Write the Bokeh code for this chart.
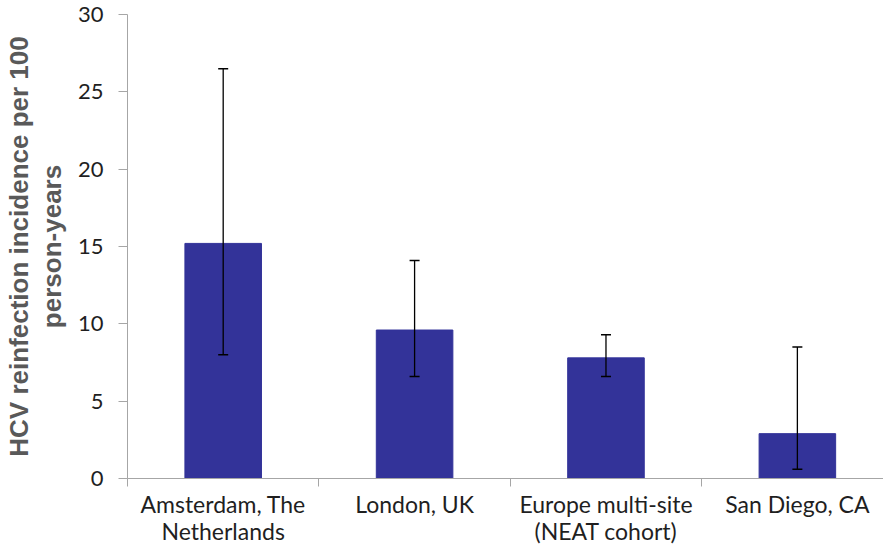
from bokeh.plotting import figure
from bokeh.models import ColumnDataSource, Whisker, FixedTicker, Range1d
from bokeh.embed import file_html
from bokeh.resources import INLINE

# Data
sites = ["Amsterdam, The\nNetherlands", "London, UK", "Europe multi-site\n(NEAT cohort)", "San Diego, CA"]
incidence = [15.2, 9.6, 7.8, 2.9]
ci_lower = [8.0, 6.6, 6.6, 0.6]
ci_upper = [26.5, 14.1, 9.3, 8.5]
y_ticks = [0, 5, 10, 15, 20, 25, 30]

positions = [i + 0.5 for i in range(len(sites))]
boundaries = list(range(len(sites) + 1))

source = ColumnDataSource(data=dict(x=positions, top=incidence, lower=ci_lower, upper=ci_upper))

p = figure(width=883, height=548, output_backend="svg", toolbar_location=None,
           x_range=Range1d(0, 3.95), y_range=Range1d(0, 30),
           min_border_left=127, min_border_top=14, min_border_bottom=70, min_border_right=0)
p.outline_line_color = None
p.xgrid.grid_line_color = None
p.ygrid.grid_line_color = None
p.background_fill_color = "white"

p.vbar(x="x", top="top", width=0.40, bottom=0, source=source,
       fill_color="#333399", line_color="#333399")

w = Whisker(base="x", lower="lower", upper="upper", source=source,
            line_color="black", line_width=1.3, level="overlay")
w.upper_head.size = 10
w.lower_head.size = 10
w.upper_head.line_width = 1.5
w.lower_head.line_width = 1.5
w.upper_head.line_color = "black"
w.lower_head.line_color = "black"
p.add_layout(w)

axis_color = "#a6a6a6"
label_font = "Lato"

# y axis
p.yaxis.ticker = FixedTicker(ticks=y_ticks)
p.yaxis.axis_line_color = axis_color
p.yaxis.major_tick_line_color = axis_color
p.yaxis.major_tick_out = 9
p.yaxis.major_tick_in = 0
p.yaxis.minor_tick_line_color = None
p.yaxis.major_label_text_font = label_font
p.yaxis.major_label_text_font_size = "22px"
p.yaxis.major_label_text_color = "#1f1f1f"
p.yaxis.major_label_standoff = 15
p.yaxis.axis_label = "HCV reinfection incidence per 100\nperson-years"
p.yaxis.axis_label_text_font = "Liberation Sans"
p.yaxis.axis_label_text_font_style = "bold"
p.yaxis.axis_label_text_font_size = "26px"
p.yaxis.axis_label_text_line_height = 1.1
p.yaxis.axis_label_text_color = "#595959"
p.yaxis.axis_label_standoff = 8

# x axis
p.xaxis.ticker = FixedTicker(ticks=positions, minor_ticks=boundaries)
p.xaxis.major_label_overrides = {pos: name for pos, name in zip(positions, sites)}
p.xaxis.axis_line_color = axis_color
p.xaxis.major_tick_line_color = None
p.xaxis.minor_tick_line_color = axis_color
p.xaxis.minor_tick_out = 8
p.xaxis.minor_tick_in = 0
p.xaxis.major_label_text_font = label_font
p.xaxis.major_label_text_font_size = "23px"
p.xaxis.major_label_text_line_height = 0.98
p.xaxis.major_label_text_color = "#1f1f1f"
p.xaxis.major_label_standoff = 3

open("out.html", "w").write(file_html(p, INLINE))
